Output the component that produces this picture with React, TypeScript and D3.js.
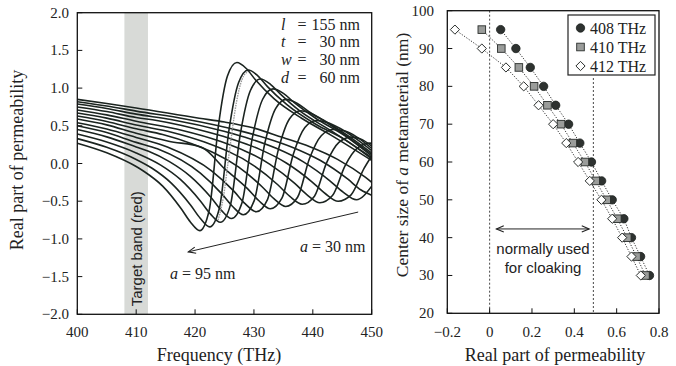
import React from "react";
import * as d3 from "d3";

// ---------- Left panel: real part of permeability vs frequency, one curve per a (nm) ----------
const muA95: [number, number][] = [[400,0.27],[405,0.143],[410,-0.04],[411.35,-0.106],[414.5,-0.30],[417.65,-0.60],[419.2,-0.775],[420.8,-0.89],[422.4,-0.62],[423.95,0.49],[425.5,1.16],[427.1,1.34],[428.7,1.26],[430.25,1.11],[433.4,0.86],[438.1,0.60],[443,0.38],[450,0.04]];
const muA90: [number, number][] = [[400,0.33],[405,0.215],[410,0.054],[412.7,-0.063],[415.96,-0.26],[419.23,-0.55],[420.87,-0.725],[422.5,-0.84],[424.14,-0.59],[425.77,0.45],[427.4,1.074],[429.04,1.24],[430.7,1.16],[432.3,1.02],[435.6,0.78],[440.5,0.52],[445.4,0.32],[450,0.06]];
const muA85: [number, number][] = [[400,0.39],[405,0.284],[410,0.14],[414.1,-0.018],[417.5,-0.211],[420.9,-0.496],[422.6,-0.668],[424.3,-0.78],[426.0,-0.552],[427.7,0.398],[429.4,0.968],[431.1,1.12],[432.8,1.05],[434.5,0.92],[437.9,0.69],[443.0,0.44],[450,0.08]];
const muA80: [number, number][] = [[400,0.45],[405,0.353],[410,0.22],[412.1,0.162],[415.64,0.025],[419.16,-0.167],[422.68,-0.448],[424.44,-0.619],[426.2,-0.73],[427.96,-0.524],[429.72,0.336],[431.48,0.852],[433.24,0.99],[435.0,0.93],[436.8,0.81],[440.3,0.61],[445.6,0.36],[450,0.10]];
const muA75: [number, number][] = [[400,0.50],[405,0.41],[410,0.28],[413.6,0.196],[420.9,-0.128],[424.55,-0.403],[426.38,-0.570],[428.2,-0.68],[430.03,-0.496],[431.85,0.269],[433.68,0.728],[435.5,0.85],[437.3,0.80],[439.1,0.70],[442.8,0.52],[446.5,0.32],[450,0.12]];
const muA70: [number, number][] = [[400,0.54],[405,0.457],[410,0.345],[415.3,0.218],[422.86,-0.101],[426.63,-0.370],[428.5,-0.533],[430.4,-0.64],[432.3,-0.479],[434.17,0.191],[436.05,0.593],[437.94,0.70],[439.8,0.66],[441.7,0.58],[445.4,0.40],[450,0.14]];
const muA65: [number, number][] = [[400,0.59],[405,0.512],[410,0.40],[415.5,0.295],[421.1,0.216],[425.0,-0.067],[428.9,-0.333],[430.85,-0.494],[432.8,-0.60],[434.75,-0.46],[436.7,0.125],[438.65,0.476],[440.6,0.57],[442.55,0.54],[444.5,0.47],[447.5,0.32],[450,0.17]];
const muA60: [number, number][] = [[400,0.63],[405,0.557],[410,0.46],[414.5,0.385],[419.32,0.265],[427.36,-0.046],[431.38,-0.308],[433.39,-0.466],[435.4,-0.57],[437.41,-0.448],[439.42,0.062],[441.43,0.368],[443.44,0.45],[445.45,0.43],[447.5,0.35],[450,0.20]];
const muA55: [number, number][] = [[400,0.67],[405,0.602],[410,0.51],[416,0.415],[421.6,0.284],[429.9,-0.024],[434.05,-0.282],[436.1,-0.437],[438.2,-0.54],[440.28,-0.433],[442.35,0.012],[444.43,0.279],[446.5,0.35],[448.3,0.32],[450,0.23]];
const muA50: [number, number][] = [[400,0.71],[405,0.645],[410,0.56],[417.7,0.442],[424.12,0.298],[432.66,-0.009],[436.93,-0.264],[439.07,-0.418],[441.2,-0.52],[443.34,-0.425],[445.47,-0.03],[447.6,0.207],[449.7,0.27],[450,0.268]];
const muA45: [number, number][] = [[400,0.75],[405,0.689],[410,0.61],[413.5,0.570],[422.3,0.414],[426.7,0.312],[431.1,0.184],[435.5,0.007],[439.9,-0.246],[442.1,-0.398],[444.3,-0.50],[446.5,-0.416],[448.7,-0.066],[450,0.10]];
const muA40: [number, number][] = [[400,0.79],[405,0.730],[410,0.655],[415.9,0.583],[424.9,0.427],[429.4,0.326],[433.9,0.198],[438.4,0.022],[442.9,-0.229],[445.15,-0.379],[447.4,-0.48],[450,-0.30]];
const muA35: [number, number][] = [[400,0.82],[405,0.763],[410,0.695],[418.3,0.591],[427.5,0.436],[432.1,0.336],[436.7,0.21],[441.3,0.039],[445.9,-0.205],[448.2,-0.352],[450,-0.42]];
const muA30: [number, number][] = [[400,0.85],[405,0.795],[410,0.737],[420.7,0.60],[425,0.55],[430,0.47],[434.8,0.347],[439.5,0.223],[444.2,0.055],[448.9,-0.182],[450,-0.25]];
const grayRise: [number, number][] = [[423.9,-0.75],[424.8,-0.45],[425.9,0.2],[427.0,0.8],[428.0,1.12],[429.0,1.22]];

const leftCurves = [muA95, muA90, muA85, muA80, muA75, muA70, muA65, muA60, muA55, muA50, muA45, muA40, muA35, muA30];
const freqTicks = [400, 410, 420, 430, 440, 450];
const muTicksL = [-2.0, -1.5, -1.0, -0.5, 0.0, 0.5, 1.0, 1.5, 2.0];
const targetBand = [408, 412];

// ---------- Right panel: center size a vs permeability at three frequencies ----------
const sizeA = [95, 90, 85, 80, 75, 70, 65, 60, 55, 50, 45, 40, 35, 30];
const mu408 = [0.052, 0.124, 0.192, 0.255, 0.312, 0.373, 0.426, 0.481, 0.529, 0.579, 0.634, 0.670, 0.713, 0.755];
const mu410 = [-0.037, 0.055, 0.138, 0.210, 0.273, 0.337, 0.393, 0.450, 0.501, 0.553, 0.603, 0.650, 0.694, 0.736];
const mu412 = [-0.164, -0.037, 0.077, 0.161, 0.231, 0.300, 0.362, 0.418, 0.473, 0.528, 0.579, 0.626, 0.670, 0.714];
const muTicksR = [-0.2, 0, 0.2, 0.4, 0.6, 0.8];
const sizeTicks = [20, 30, 40, 50, 60, 70, 80, 90, 100];
const cloakRange = [0, 0.49];

const SERIF = "'Liberation Serif', 'Times New Roman', serif";
const SANS = "'Liberation Sans', Arial, sans-serif";
const INK = "#1b2420";

const fmtL = (v: number) => (v < 0 ? "\u2212" : "") + Math.abs(v).toFixed(1);
const fmtR = (v: number) => (v === 0 ? "0" : (v < 0 ? "\u2212" : "") + Math.abs(v).toFixed(1));

export default function App() {
  const xL = d3.scaleLinear().domain([400, 450]).range([77.3, 371.7]);
  const yL = d3.scaleLinear().domain([-2, 2]).range([314.3, 12.7]);
  const xR = d3.scaleLinear().domain([-0.2, 0.8]).range([447.3, 659]);
  const yR = d3.scaleLinear().domain([20, 100]).range([313.3, 10.7]);

  const lineL = d3
    .line<[number, number]>()
    .x((d) => xL(d[0]))
    .y((d) => yL(d[1]))
    .curve(d3.curveMonotoneX);

  const series = [
    { vals: mu408, kind: "circle" },
    { vals: mu410, kind: "square" },
    { vals: mu412, kind: "diamond" },
  ];
  const lineR = d3
    .line<[number, number]>()
    .x((d) => xR(d[0]))
    .y((d) => yR(d[1]));

  const marker = (kind: string, cx: number, cy: number, key: any) => {
    if (kind === "circle")
      return <circle key={key} cx={cx} cy={cy} r={4.2} fill="#2e3230" stroke="#1b1f1d" strokeWidth={0.8} />;
    if (kind === "square")
      return <rect key={key} x={cx - 3.8} y={cy - 3.8} width={7.6} height={7.6} fill="#9a9c9a" stroke="#2a2e2c" strokeWidth={0.9} />;
    return (
      <path
        key={key}
        d={`M${cx},${cy - 4.6}L${cx + 4.6},${cy}L${cx},${cy + 4.6}L${cx - 4.6},${cy}Z`}
        fill="#ffffff"
        stroke="#2a2e2c"
        strokeWidth={1}
      />
    );
  };

  const Lx0 = xL(400), Lx1 = xL(450), Ly0 = yL(2), Ly1 = yL(-2);
  const Rx0 = xR(-0.2), Rx1 = xR(0.8), Ry0 = yR(100), Ry1 = yR(20);

  // arrow (a = 30 nm -> a = 95 nm)
  const ax1 = xL(447.7), ay1 = yL(-0.644), ax2 = xL(418.85), ay2 = yL(-1.172);
  const ang = Math.atan2(ay2 - ay1, ax2 - ax1);
  const head = (x: number, y: number, a: number) => {
    const L = 8, w = 0.4;
    return `M${x - L * Math.cos(a - w)},${y - L * Math.sin(a - w)}L${x},${y}L${x - L * Math.cos(a + w)},${y - L * Math.sin(a + w)}`;
  };

  const dx1 = xR(0.032), dx2 = xR(0.47), dy = yR(42.3);

  return (
    <svg width={676} height={366} style={{ position: "absolute", left: 0, top: 0, background: "#fff" }}>
      <defs>
        <clipPath id="clipL">
          <rect x={Lx0} y={Ly0} width={Lx1 - Lx0} height={Ly1 - Ly0} />
        </clipPath>
      </defs>

      {/* ---------- LEFT PANEL ---------- */}
      <rect x={xL(targetBand[0])} y={Ly0} width={xL(targetBand[1]) - xL(targetBand[0])} height={Ly1 - Ly0} fill="#d8dad7" />
      <text
        transform={`translate(${xL(410) + 5.5},${Ly1 - 8}) rotate(-90)`}
        fontFamily={SANS}
        fontSize={15}
        fill="#222"
      >
        Target band (red)
      </text>

      <g clipPath="url(#clipL)" fill="none">
        {leftCurves.map((c, i) => (
          <path key={i} d={lineL(c) || ""} stroke={INK} strokeWidth={1.6} />
        ))}
        <path d={lineL(grayRise) || ""} stroke="#9a9a9a" strokeWidth={1.4} strokeDasharray="1.5,1" />
      </g>

      <rect x={Lx0} y={Ly0} width={Lx1 - Lx0} height={Ly1 - Ly0} fill="none" stroke="#111" strokeWidth={1.3} />
      {freqTicks.map((t) => (
        <g key={t}>
          <line x1={xL(t)} x2={xL(t)} y1={Ly1} y2={Ly1 - 5} stroke="#111" strokeWidth={1} />
          <text x={xL(t)} y={337} textAnchor="middle" fontFamily={SERIF} fontSize={15} fill="#222">
            {t}
          </text>
        </g>
      ))}
      {muTicksL.map((t) => (
        <g key={t}>
          <line x1={Lx0} x2={Lx0 + 5} y1={yL(t)} y2={yL(t)} stroke="#111" strokeWidth={1} />
          <text x={69} y={yL(t) + 5} textAnchor="end" fontFamily={SERIF} fontSize={15} fill="#222">
            {fmtL(t)}
          </text>
        </g>
      ))}

      {/* parameters */}
      {[
        ["l", "155 nm", 29.5],
        ["t", "30 nm", 47],
        ["w", "30 nm", 65],
        ["d", "60 nm", 82.5],
      ].map(([k, v, y]) => (
        <g key={k as string} fontFamily={SERIF} fontSize={16} fill="#222">
          <text x={281} y={y as number} fontStyle="italic">{k}</text>
          <text x={302} y={y as number} textAnchor="middle">=</text>
          <text x={360} y={y as number} textAnchor="end">{v}</text>
        </g>
      ))}

      {/* arrow + labels */}
      <line x1={ax1} y1={ay1} x2={ax2} y2={ay2} stroke="#222" strokeWidth={1} />
      <path d={head(ax2, ay2, ang)} fill="none" stroke="#222" strokeWidth={1.1} />
      <text x={170} y={279} fontFamily={SERIF} fontSize={16} fill="#222">
        <tspan fontStyle="italic">a</tspan> = 95 nm
      </text>
      <text x={300} y={252} fontFamily={SERIF} fontSize={16} fill="#222">
        <tspan fontStyle="italic">a</tspan> = 30 nm
      </text>

      <text transform={`translate(23,160) rotate(-90)`} textAnchor="middle" fontFamily={SERIF} fontSize={18} fill="#222">
        Real part of permeability
      </text>
      <text x={219} y={361} textAnchor="middle" fontFamily={SERIF} fontSize={18} fill="#222">
        Frequency (THz)
      </text>

      {/* ---------- RIGHT PANEL ---------- */}
      <line x1={xR(cloakRange[0])} x2={xR(cloakRange[0])} y1={Ry0} y2={Ry1} stroke="#333" strokeWidth={0.9} strokeDasharray="2,2" />
      <line x1={xR(cloakRange[1])} x2={xR(cloakRange[1])} y1={78} y2={Ry1} stroke="#333" strokeWidth={0.9} strokeDasharray="2,2" />

      <line x1={dx1} x2={dx2} y1={dy} y2={dy} stroke="#222" strokeWidth={1} />
      <path d={head(dx2, dy, 0)} fill="none" stroke="#222" strokeWidth={1.1} />
      <path d={head(dx1, dy, Math.PI)} fill="none" stroke="#222" strokeWidth={1.1} />
      <text x={543} y={254} textAnchor="middle" fontFamily={SANS} fontSize={15} fill="#222">normally used</text>
      <text x={543} y={273} textAnchor="middle" fontFamily={SANS} fontSize={15} fill="#222">for cloaking</text>

      {series.map((s, si) => (
        <path
          key={"l" + si}
          d={lineR(s.vals.map((v, i) => [v, sizeA[i]] as [number, number])) || ""}
          fill="none"
          stroke="#333"
          strokeWidth={1}
          strokeDasharray="1.2,1.6"
        />
      ))}
      {series.map((s, si) => (
        <g key={"m" + si}>{s.vals.map((v, i) => marker(s.kind, xR(v), yR(sizeA[i]), i))}</g>
      ))}

      <rect x={Rx0} y={Ry0} width={Rx1 - Rx0} height={Ry1 - Ry0} fill="none" stroke="#111" strokeWidth={1.3} />
      {muTicksR.map((t) => (
        <g key={t}>
          <line x1={xR(t)} x2={xR(t)} y1={Ry1} y2={Ry1 - 5} stroke="#111" strokeWidth={1} />
          <text x={xR(t)} y={337} textAnchor="middle" fontFamily={SERIF} fontSize={15} fill="#222">
            {fmtR(t)}
          </text>
        </g>
      ))}
      {sizeTicks.map((t) => (
        <g key={t}>
          <line x1={Rx0} x2={Rx0 + 5} y1={yR(t)} y2={yR(t)} stroke="#111" strokeWidth={1} />
          <text x={434} y={yR(t) + 5} textAnchor="end" fontFamily={SERIF} fontSize={15} fill="#222">
            {t}
          </text>
        </g>
      ))}

      {/* legend */}
      <rect x={568} y={15} width={87} height={60} fill="#fff" stroke="#222" strokeWidth={1.2} />
      {["408 THz", "410 THz", "412 THz"].map((lab, i) => (
        <g key={lab}>
          {marker(series[i].kind, 580.5, 28 + i * 19, "lg" + i)}
          <text x={590} y={33.5 + i * 19} fontFamily={SERIF} fontSize={16} fill="#222">{lab}</text>
        </g>
      ))}

      <text x={555} y={361} textAnchor="middle" fontFamily={SERIF} fontSize={18} fill="#222">
        Real part of permeability
      </text>
      <text transform={`translate(408,155) rotate(-90)`} textAnchor="middle" fontFamily={SERIF} fontSize={17.5} fill="#222">
        Center size of <tspan fontStyle="italic">a</tspan> metamaterial (nm)
      </text>
    </svg>
  );
}
